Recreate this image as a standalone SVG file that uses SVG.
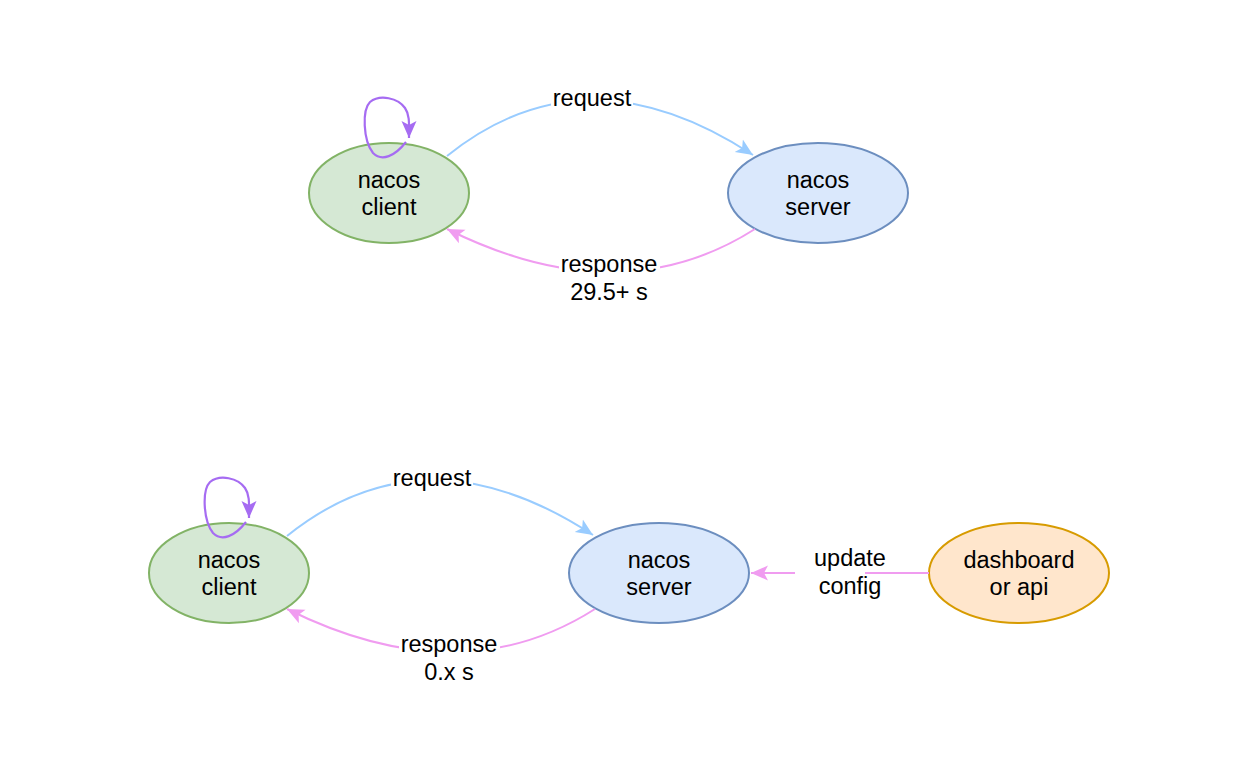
<svg xmlns="http://www.w3.org/2000/svg" width="1260" height="758" viewBox="0 0 1260 758">
<style>
text{font-family:"Liberation Sans",Arial,sans-serif;font-size:23.5px;fill:#000;text-anchor:middle}
.client{fill:#d5e8d4;stroke:#82b366;stroke-width:2}
.server{fill:#dae8fc;stroke:#6c8ebf;stroke-width:2}
.dash{fill:#ffe6cc;stroke:#d79b00;stroke-width:2}
.req{fill:none;stroke:#99ccff;stroke-width:2}
.resp{fill:none;stroke:#f09cf0;stroke-width:2}
.loop{fill:none;stroke:#a66cf2;stroke-width:2.2}
.lbl{fill:#fff;stroke:none}
</style>
<defs>
<marker id="aReq" markerUnits="userSpaceOnUse" markerWidth="19" markerHeight="17" refX="17" refY="8.5" orient="auto"><path d="M0,1 L17,8.5 L0,16 L4,8.5 Z" fill="#99ccff"/></marker>
<marker id="aResp" markerUnits="userSpaceOnUse" markerWidth="19" markerHeight="17" refX="17" refY="8.5" orient="auto"><path d="M0,1 L17,8.5 L0,16 L4,8.5 Z" fill="#f09cf0"/></marker>
<marker id="aLoop" markerUnits="userSpaceOnUse" markerWidth="19" markerHeight="17" refX="17" refY="8.5" orient="auto"><path d="M0,1 L17,8.5 L0,16 L4,8.5 Z" fill="#a66cf2"/></marker>
</defs>
<rect width="1260" height="758" fill="#fff"/>
<g id="top-client"><ellipse class="client" cx="389" cy="193" rx="80" ry="50"/><text x="389" y="188">nacos</text><text x="389" y="215">client</text></g>
<g id="top-server"><ellipse class="server" cx="818" cy="193" rx="90" ry="50"/><text x="818" y="188">nacos</text><text x="818" y="215">server</text></g>
<g id="bottom-client"><ellipse class="client" cx="229" cy="573" rx="80" ry="50"/><text x="229" y="568">nacos</text><text x="229" y="595">client</text></g>
<g id="bottom-server"><ellipse class="server" cx="659" cy="573" rx="90" ry="50"/><text x="659" y="568">nacos</text><text x="659" y="595">server</text></g>
<g id="dashboard"><ellipse class="dash" cx="1019" cy="573" rx="90" ry="50"/><text x="1019" y="568">dashboard</text><text x="1019" y="595">or api</text></g>
<g id="connectors">
<g id="top-request"><path class="req" d="M447,156 Q585,45 753,155" marker-end="url(#aReq)"/><rect class="lbl" x="551" y="86" width="82" height="26"/><text x="592" y="106">request</text></g>
<g id="top-response"><path class="resp" d="M755,229 Q620,315 447,229" marker-end="url(#aResp)"/><rect class="lbl" x="559" y="252" width="101" height="54"/><text x="609" y="272">response</text><text x="609" y="300">29.5+ s</text></g>
<g id="top-loop"><path class="loop" d="M406,142 C395,156 382,162 373,153 C363,140 362,110 370,102 C380,94 398,98 405,108 C410,115 409,125 409,138" marker-end="url(#aLoop)"/></g>
<g id="bottom-request"><path class="req" d="M287,536 Q425,425 593,535" marker-end="url(#aReq)"/><rect class="lbl" x="391" y="466" width="82" height="26"/><text x="432" y="486">request</text></g>
<g id="bottom-response"><path class="resp" d="M595,609 Q460,695 287,609" marker-end="url(#aResp)"/><rect class="lbl" x="399" y="632" width="101" height="54"/><text x="449" y="652">response</text><text x="449" y="680">0.x s</text></g>
<g id="bottom-loop"><path class="loop" d="M246,522 C235,536 222,542 213,533 C203,520 202,490 210,482 C220,474 238,478 245,488 C250,495 249,505 249,518" marker-end="url(#aLoop)"/></g>
<g id="update-config"><path class="resp" d="M929,573 L751,573" marker-end="url(#aResp)"/><rect class="lbl" x="795" y="543" width="70" height="54"/><text x="850" y="566">update</text><text x="850" y="594">config</text></g>
</g>
</svg>
